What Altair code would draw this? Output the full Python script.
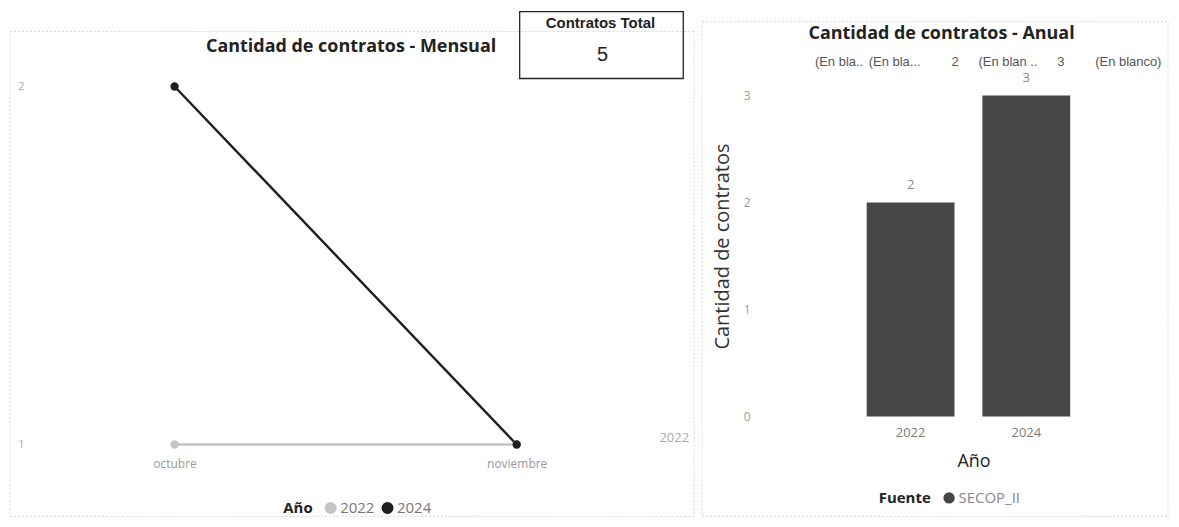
import altair as alt
import pandas as pd

# ---------------- data ----------------
meses = ["octubre", "noviembre"]
anios_linea = ["2022", "2024"]
contratos_2022 = [1, 1]
contratos_2024 = [2, 1]

anios = ["2022", "2024"]
contratos_anual = [2, 3]
fuente = ["SECOP_II", "SECOP_II"]

etiquetas_superiores = ["(En bla..", "(En bla...", "2", "(En blan ..", "3", "(En blanco)"]

titulo_mensual = "Cantidad de contratos - Mensual"
titulo_anual = "Cantidad de contratos - Anual"
kpi_titulo = "Contratos Total"

# ---------------- tables ----------------
df_linea = pd.DataFrame({
    "Mes": meses * 2,
    "Año": [anios_linea[0]] * 2 + [anios_linea[1]] * 2,
    "Contratos": contratos_2022 + contratos_2024,
})
df_fin = df_linea[(df_linea["Año"] == "2022") & (df_linea["Mes"] == meses[-1])]
df_anual = pd.DataFrame({"Año": anios, "Cantidad": contratos_anual, "Fuente": fuente})
total = int(sum(contratos_anual))

FONT = "Open Sans"
one = pd.DataFrame({"k": [0]})

def txt(text, x, y, size, color, weight="normal", font=FONT, align="center"):
    return alt.Chart(pd.DataFrame({"t": [text]})).mark_text(
        font=font, fontSize=size, color=color, fontWeight=weight,
        align=align, baseline="middle"
    ).encode(text="t:N", x=alt.value(x), y=alt.value(y))

def box(x, x2, y, y2, color, width=1, dash=None):
    kw = dict(fill=None, stroke=color, strokeWidth=width, filled=False)
    if dash:
        kw["strokeDash"] = dash
    return alt.Chart(one).mark_rect(**kw).encode(
        x=alt.value(x), x2=alt.value(x2), y=alt.value(y), y2=alt.value(y2))

# ---------------- left: monthly line ----------------
W1, H1 = 627, 359
color_anio = alt.Color(
    "Año:N",
    scale=alt.Scale(domain=anios_linea, range=["#c4c4c4", "#1e1e1e"]),
    legend=alt.Legend(
        orient="none", legendX=251, legendY=415, direction="horizontal",
        title="Año", titleOrient="left", titleFontWeight="bold", titleFontSize=15,
        titleColor="#222", titleFont=FONT, labelFont=FONT, labelFontSize=15,
        labelColor="#777", symbolType="circle", symbolSize=110, columnPadding=4,
        labelOffset=2, titlePadding=10,
    ),
)
x_mes = alt.X("Mes:N", sort=meses, title=None,
              scale=alt.Scale(type="point", padding=0.414),
              axis=alt.Axis(labelAngle=0, labelColor="#9a9a9a", labelFontSize=12,
                            labelFont=FONT, labelPadding=14, ticks=False, domain=False))
y_cont = alt.Y("Contratos:Q", title=None,
               scale=alt.Scale(domain=[1, 2], nice=False, zero=False),
               axis=alt.Axis(values=[1, 2], format="d", labelColor="#aaaaaa",
                             labelFontSize=11, labelFont=FONT, labelPadding=9,
                             ticks=False, domain=False, grid=False))

base_l = alt.Chart(df_linea).encode(x=x_mes, y=y_cont, color=color_anio)
lineas = base_l.mark_line(strokeWidth=2.4)
puntos = base_l.mark_point(filled=True, size=70, opacity=1)
fin = alt.Chart(df_fin).mark_text(dx=158, dy=-7, color="#a8a8a8", fontSize=13,
                                  font=FONT).encode(
    x=alt.X("Mes:N", sort=meses), y="Contratos:Q", text="Año:N")

left = alt.layer(
    box(-23, 663, -55, 431, "#d6d6d6", 1, [2, 2]),
    lineas, puntos, fin,
    txt(titulo_mensual, 319, -40, 18, "#222", "bold"),
    box(488, 652, -75, -8, "#222", 1.3),
    txt(kpi_titulo, 569, -64, 15, "#222", "bold", font="Liberation Sans Narrow, Liberation Sans"),
    txt(str(total), 571, -32, 20, "#222", "normal", font="Liberation Sans"),
).properties(width=W1, height=H1)

# ---------------- right: yearly bars ----------------
W2, H2 = 398, 331
x_anio = alt.X("Año:N", sort=anios,
               scale=alt.Scale(paddingInner=0.241, paddingOuter=0.836, align=0.546),
               axis=alt.Axis(labelAngle=0, labelColor="#7a7a7a", labelFontSize=13,
                             labelFont=FONT, labelPadding=10, ticks=False, domain=False,
                             title="Año", titleFontSize=18, titleFont=FONT,
                             titleFontWeight="normal", titleColor="#222",
                             titleX=213, titleY=45, titleBaseline="middle"))
y_cant = alt.Y("Cantidad:Q",
               scale=alt.Scale(domain=[0, 3.085], nice=False),
               axis=alt.Axis(values=[0, 1, 2, 3], format="d", labelColor="#9a9a9a",
                             labelFontSize=12, labelFont=FONT, labelPadding=11,
                             ticks=False, domain=False, grid=False,
                             title="Cantidad de contratos", titleFontSize=20,
                             titleFont=FONT, titleFontWeight="normal", titleColor="#333",
                             titleAngle=270, titleX=-39, titleY=160,
                             titleBaseline="middle", titleAlign="center"))
color_fuente = alt.Color(
    "Fuente:N", scale=alt.Scale(domain=["SECOP_II"], range=["#474747"]),
    legend=alt.Legend(orient="none", legendX=118, legendY=405, direction="horizontal",
                      title="Fuente", titleOrient="left", titleFontWeight="bold",
                      titleFontSize=15, titleColor="#222", titleFont=FONT,
                      labelFont=FONT, labelFontSize=15, labelColor="#888",
                      symbolType="circle", symbolSize=130, titlePadding=10, labelOffset=2))

base_r = alt.Chart(df_anual).encode(x=x_anio, y=y_cant)
barras = base_r.mark_bar().encode(color=color_fuente)
valores = base_r.mark_text(dy=-18, color="#8a8a8a", fontSize=13, font=FONT,
                           baseline="middle").encode(text="Cantidad:Q")

pos_sup = [816, 870, 953, 980, 1059, 1097]
sup_layers = [txt(t, x - 762, -25, 13, "#555", "normal", font="Liberation Sans", align="left")
              for t, x in zip(etiquetas_superiores, pos_sup)]

right = alt.layer(
    box(-59, 408, -65, 431, "#d6d6d6", 1, [2, 2]),
    barras, valores,
    txt(titulo_anual, 181, -53, 18, "#222", "bold"),
    *sup_layers,
).properties(width=W2, height=H2)

chart = alt.hconcat(left, right, spacing=103, bounds="flush").resolve_scale(
    color="independent"
).resolve_legend(color="independent").properties(
    padding={"left": 1, "top": 2, "right": 2, "bottom": 2}
).configure_view(stroke=None).configure_axis(grid=False)

chart.save("out.html", embed_options={"renderer": "svg", "actions": False})
